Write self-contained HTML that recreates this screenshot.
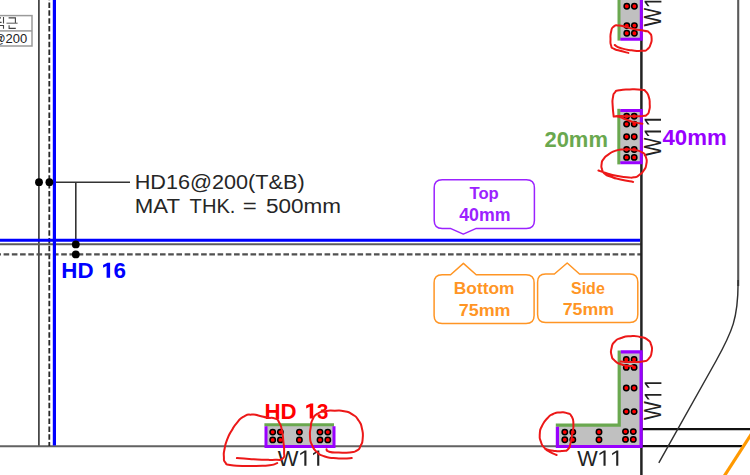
<!DOCTYPE html>
<html><head><meta charset="utf-8"><title>Rebar cover detail</title>
<style>
html,body{margin:0;padding:0;background:#fff;}
body{width:750px;height:475px;overflow:hidden;font-family:"Liberation Sans",sans-serif;}
svg{display:block;}
text{font-family:"Liberation Sans",sans-serif;}
</style></head><body>
<svg width="750" height="475" viewBox="0 0 750 475">
<rect width="750" height="475" fill="#ffffff"/>

<g fill="none" stroke="#333" stroke-width="1.6">
<line x1="38.9" y1="0" x2="38.9" y2="446"/>
<line x1="0" y1="446.2" x2="556" y2="446.2" stroke="#626262" stroke-width="2.1"/>
<line x1="0" y1="244.3" x2="641" y2="244.3" stroke="#5c5c5c" stroke-width="2.0"/>
<line x1="54" y1="182.2" x2="130" y2="182.2" stroke-width="1.6"/>
<line x1="75.8" y1="182" x2="75.8" y2="244" stroke-width="1.6"/>
</g>
<line x1="49.3" y1="-5.35" x2="49.3" y2="446" stroke="#2a2a2a" stroke-width="1.8" stroke-dasharray="5.5 2.35"/>
<line x1="-4.63" y1="254.4" x2="641" y2="254.4" stroke="#505050" stroke-width="2.1" stroke-dasharray="5.6 2.63"/>
<line x1="641.4" y1="0" x2="641.4" y2="475" stroke="#222" stroke-width="2.5"/>
<line x1="642" y1="429.1" x2="750" y2="429.1" stroke="#111" stroke-width="2.3"/>
<line x1="642" y1="446.1" x2="742" y2="446.1" stroke="#111" stroke-width="2.3"/>
<line x1="738.2" y1="-2" x2="738.2" y2="286" stroke="#5a5a5a" stroke-width="2.1"/>
<path d="M738.1 280 L738.1 283 C738 318 732.6 331 716 361 L658.8 462.8" fill="none" stroke="#303030" stroke-width="1.45"/>
<line x1="752" y1="433" x2="723" y2="478" stroke="#ff9900" stroke-width="3.2"/>
<line x1="54.4" y1="0" x2="54.4" y2="445.5" stroke="#0000ff" stroke-width="3.2"/>
<line x1="0" y1="240.2" x2="640" y2="240.2" stroke="#0000ff" stroke-width="3"/>
<circle cx="39" cy="182.2" r="3.9" fill="#000"/>
<circle cx="49.4" cy="182.2" r="3.9" fill="#000"/>
<circle cx="75.8" cy="244.4" r="3.9" fill="#000"/>
<circle cx="75.8" cy="254.4" r="3.9" fill="#000"/>
<g fill="none" stroke="#9a9a9a" stroke-width="1.5"><rect x="-5" y="15.6" width="37" height="30.4"/><line x1="0" y1="30.9" x2="32" y2="30.9"/></g>
<text transform="translate(-7.55 42.7) scale(1.03 1)" font-size="12.6" fill="#222">@200</text>
<g fill="none" stroke="#444" stroke-width="1.1"><path d="M8.6 17.9 H15.4 V23"/><path d="M6.5 23.2 H17.6" stroke="#666"/><path d="M9.1 25.2 V28.4 H15.8"/><path d="M3.5 17 V23.6 M-1 17.9 H1 M-1 22.4 H1.6 M-1 25.5 H3.5 V28.8"/></g>
<text transform="translate(134.67 188.70) scale(1.0800 1)" font-size="20.06" fill="#262626">HD16@200(T&amp;B)</text>
<text transform="translate(134.82 213.00) scale(1.0613 1)" font-size="20.93" fill="#262626">MAT</text>
<text transform="translate(189.60 213.00) scale(0.9622 1)" font-size="20.93" fill="#262626">THK.</text>
<text transform="translate(242.64 213.00) scale(1.1467 1)" font-size="20.93" fill="#262626">=</text>
<text transform="translate(265.90 213.00) scale(1.0764 1)" font-size="20.93" fill="#262626">500mm</text>
<text transform="translate(61.36 277.90) scale(1.0109 1)" font-size="22.09" font-weight="bold" fill="#0000ff">HD</text>
<path d="M110.10 277.8 H106.60 V266.10 L103.10 267.80 V264.90 L107.50 262.8 H110.10 Z" fill="#0000ff"/>
<text transform="translate(113.53 277.90) scale(1.0161 1)" font-size="22.09" font-weight="bold" fill="#0000ff">6</text>
<rect x="619" y="-5" width="22" height="45" fill="#c0c0c0"/>
<line x1="619" y1="-5" x2="619" y2="40.6" stroke="#6aa84f" stroke-width="3"/>
<path d="M620.4 39.2 H641.3 V-5" fill="none" stroke="#9900ff" stroke-width="3"/>
<circle cx="626.8" cy="6.3" r="2.7" fill="#ff0000" stroke="#000" stroke-width="1.5"/><circle cx="626.8" cy="25.6" r="2.7" fill="#ff0000" stroke="#000" stroke-width="1.5"/><circle cx="626.8" cy="33.2" r="2.7" fill="#ff0000" stroke="#000" stroke-width="1.5"/><circle cx="634.4" cy="6.3" r="2.7" fill="#ff0000" stroke="#000" stroke-width="1.5"/><circle cx="634.4" cy="25.6" r="2.7" fill="#ff0000" stroke="#000" stroke-width="1.5"/><circle cx="634.4" cy="33.2" r="2.7" fill="#ff0000" stroke="#000" stroke-width="1.5"/>
<rect x="619" y="110" width="22" height="53" fill="#c0c0c0"/>
<line x1="618.8" y1="108.8" x2="618.8" y2="164.4" stroke="#6aa84f" stroke-width="3"/>
<path d="M620.3 110.4 H641.3 V162.8 H620.3" fill="none" stroke="#9900ff" stroke-width="3"/>
<circle cx="626.6" cy="116.2" r="2.7" fill="#ff0000" stroke="#000" stroke-width="1.5"/><circle cx="626.6" cy="124.1" r="2.7" fill="#ff0000" stroke="#000" stroke-width="1.5"/><circle cx="626.6" cy="136.8" r="2.7" fill="#ff0000" stroke="#000" stroke-width="1.5"/><circle cx="626.6" cy="149.5" r="2.7" fill="#ff0000" stroke="#000" stroke-width="1.5"/><circle cx="626.6" cy="157.4" r="2.7" fill="#ff0000" stroke="#000" stroke-width="1.5"/><circle cx="634.2" cy="116.2" r="2.7" fill="#ff0000" stroke="#000" stroke-width="1.5"/><circle cx="634.2" cy="124.1" r="2.7" fill="#ff0000" stroke="#000" stroke-width="1.5"/><circle cx="634.2" cy="136.8" r="2.7" fill="#ff0000" stroke="#000" stroke-width="1.5"/><circle cx="634.2" cy="149.5" r="2.7" fill="#ff0000" stroke="#000" stroke-width="1.5"/><circle cx="634.2" cy="157.4" r="2.7" fill="#ff0000" stroke="#000" stroke-width="1.5"/>
<rect x="266" y="425" width="68" height="22" fill="#c0c0c0"/>
<line x1="264.4" y1="424.8" x2="334" y2="424.8" stroke="#6aa84f" stroke-width="3"/>
<path d="M266 426.3 V446.5 H334 V426.3" fill="none" stroke="#9900ff" stroke-width="3"/>
<circle cx="272.7" cy="432.1" r="2.7" fill="#ff0000" stroke="#000" stroke-width="1.5"/><circle cx="272.7" cy="439.9" r="2.7" fill="#ff0000" stroke="#000" stroke-width="1.5"/><circle cx="280.4" cy="432.1" r="2.7" fill="#ff0000" stroke="#000" stroke-width="1.5"/><circle cx="280.4" cy="439.9" r="2.7" fill="#ff0000" stroke="#000" stroke-width="1.5"/>
<circle cx="299.4" cy="432.1" r="2.7" fill="#ff0000" stroke="#000" stroke-width="1.5"/><circle cx="299.4" cy="439.9" r="2.7" fill="#ff0000" stroke="#000" stroke-width="1.5"/>
<circle cx="320" cy="432.1" r="2.7" fill="#ff0000" stroke="#000" stroke-width="1.5"/><circle cx="320" cy="439.9" r="2.7" fill="#ff0000" stroke="#000" stroke-width="1.5"/><circle cx="327.8" cy="432.1" r="2.7" fill="#ff0000" stroke="#000" stroke-width="1.5"/><circle cx="327.8" cy="439.9" r="2.7" fill="#ff0000" stroke="#000" stroke-width="1.5"/>
<path d="M619 352 H641 V447 H557 V425 H619 Z" fill="#c0c0c0"/>
<path d="M555.8 425.2 H619.2 V350.6" fill="none" stroke="#6aa84f" stroke-width="3.2"/>
<path d="M620.8 351.9 H641.1 V446.5 H557.4 V426.8" fill="none" stroke="#9900ff" stroke-width="3.2"/>
<circle cx="626.3" cy="359.5" r="2.7" fill="#ff0000" stroke="#000" stroke-width="1.5"/><circle cx="626.3" cy="367.4" r="2.7" fill="#ff0000" stroke="#000" stroke-width="1.5"/><circle cx="626.3" cy="388" r="2.7" fill="#ff0000" stroke="#000" stroke-width="1.5"/><circle cx="626.3" cy="411.6" r="2.7" fill="#ff0000" stroke="#000" stroke-width="1.5"/><circle cx="634.1" cy="359.5" r="2.7" fill="#ff0000" stroke="#000" stroke-width="1.5"/><circle cx="634.1" cy="367.4" r="2.7" fill="#ff0000" stroke="#000" stroke-width="1.5"/><circle cx="634.1" cy="388" r="2.7" fill="#ff0000" stroke="#000" stroke-width="1.5"/><circle cx="634.1" cy="411.6" r="2.7" fill="#ff0000" stroke="#000" stroke-width="1.5"/>
<circle cx="625.5" cy="431.6" r="2.7" fill="#ff0000" stroke="#000" stroke-width="1.5"/><circle cx="625.5" cy="439.4" r="2.7" fill="#ff0000" stroke="#000" stroke-width="1.5"/><circle cx="633.3" cy="431.6" r="2.7" fill="#ff0000" stroke="#000" stroke-width="1.5"/><circle cx="633.3" cy="439.4" r="2.7" fill="#ff0000" stroke="#000" stroke-width="1.5"/>
<circle cx="599" cy="432" r="2.7" fill="#ff0000" stroke="#000" stroke-width="1.5"/><circle cx="599" cy="439.8" r="2.7" fill="#ff0000" stroke="#000" stroke-width="1.5"/>
<circle cx="564.8" cy="432.1" r="2.7" fill="#ff0000" stroke="#000" stroke-width="1.5"/><circle cx="564.8" cy="439.8" r="2.7" fill="#ff0000" stroke="#000" stroke-width="1.5"/><circle cx="572.8" cy="432.1" r="2.7" fill="#ff0000" stroke="#000" stroke-width="1.5"/><circle cx="572.8" cy="439.8" r="2.7" fill="#ff0000" stroke="#000" stroke-width="1.5"/>
<g transform="translate(277.8 465.8) scale(1.012 1)" fill="#222"><text transform="translate(0.00 0) scale(0.9880 1)" font-size="21.95">W</text><path d="M26.2 0 V-13.2 L22.15 -10.6 V-12.5 L26.65 -15.2 H28.3 V0 Z"/><path d="M38.900000000000006 0 V-13.2 L34.85 -10.6 V-12.5 L39.35 -15.2 H41.0 V0 Z"/></g>
<g transform="translate(577.3 465.8)" fill="#222"><text transform="translate(0.00 0) scale(0.9880 1)" font-size="21.95">W</text><path d="M26.2 0 V-13.2 L22.15 -10.6 V-12.5 L26.65 -15.2 H28.3 V0 Z"/><path d="M38.900000000000006 0 V-13.2 L34.85 -10.6 V-12.5 L39.35 -15.2 H41.0 V0 Z"/></g>
<g transform="translate(661 156.3) rotate(-90) scale(0.913 1.08)" fill="#222"><text transform="translate(0.00 0) scale(0.9880 1)" font-size="21.95">W</text><path d="M26.2 0 V-13.2 L22.15 -10.6 V-12.5 L26.65 -15.2 H28.3 V0 Z"/><path d="M38.900000000000006 0 V-13.2 L34.85 -10.6 V-12.5 L39.35 -15.2 H41.0 V0 Z"/></g>
<g transform="translate(661.4 26.5) rotate(-90) scale(0.913 1.11)" fill="#222"><text transform="translate(0.00 0) scale(0.9880 1)" font-size="21.95">W</text><path d="M26.2 0 V-13.2 L22.15 -10.6 V-12.5 L26.65 -15.2 H28.3 V0 Z"/><path d="M38.900000000000006 0 V-13.2 L34.85 -10.6 V-12.5 L39.35 -15.2 H41.0 V0 Z"/></g>
<g transform="translate(661.4 420) rotate(-90) scale(0.923 1.1)" fill="#222"><text transform="translate(0.00 0) scale(0.9880 1)" font-size="21.95">W</text><path d="M26.2 0 V-13.2 L22.15 -10.6 V-12.5 L26.65 -15.2 H28.3 V0 Z"/><path d="M38.900000000000006 0 V-13.2 L34.85 -10.6 V-12.5 L39.35 -15.2 H41.0 V0 Z"/></g>
<text transform="translate(544.44 146.70) scale(1.0085 1)" font-size="21.80" font-weight="bold" fill="#6aa84f">20mm</text>
<text transform="translate(662.48 144.70) scale(1.0193 1)" font-size="21.80" font-weight="bold" fill="#9900ff">40mm</text>
<text transform="translate(264.56 418.50) scale(1.0210 1)" font-size="21.80" font-weight="bold" fill="#ff0000">HD</text>
<path d="M313.20 418.5 H309.70 V406.80 L306.20 408.50 V405.60 L310.60 403.5 H313.20 Z" fill="#ff0000"/>
<text transform="translate(316.89 418.50) scale(0.9357 1)" font-size="21.80" font-weight="bold" fill="#ff0000">3</text>
<path d="M442.2 179.8 H526.4 Q534.4 179.8 534.4 187.8 V220.4 Q534.4 228.4 526.4 228.4 H476.3 L463.3 234.1 L450.3 228.4 H442.2 Q434.2 228.4 434.2 220.4 V187.8 Q434.2 179.8 442.2 179.8 Z" fill="#fff" stroke="#9b22ff" stroke-width="1.5" stroke-linejoin="round"/>
<text transform="translate(469.53 199.40) scale(0.9616 1)" font-size="17.30" font-weight="bold" fill="#9b22ff">Top</text>
<text transform="translate(459.22 221.10) scale(1.0096 1)" font-size="17.59" font-weight="bold" fill="#9b22ff">40mm</text>
<path d="M442.1 274.8 H450.6 L463.4 263.4 L476.2 274.8 H526.1 Q534.1 274.8 534.1 282.8 V315.4 Q534.1 323.4 526.1 323.4 H442.1 Q434.1 323.4 434.1 315.4 V282.8 Q434.1 274.8 442.1 274.8 Z" fill="#fff" stroke="#ff9524" stroke-width="1.5" stroke-linejoin="round"/>
<text transform="translate(453.76 294.40) scale(1.0213 1)" font-size="17.01" font-weight="bold" fill="#ff9524">Bottom</text>
<text transform="translate(458.68 315.70) scale(1.0376 1)" font-size="17.30" font-weight="bold" fill="#ff9524">75mm</text>
<path d="M545.6 274 H554.4 L567.2 263 L579.5 274 H629.8 Q637.8 274 637.8 282 V314.5 Q637.8 322.5 629.8 322.5 H545.6 Q537.6 322.5 537.6 314.5 V282 Q537.6 274 545.6 274 Z" fill="#fff" stroke="#ff9524" stroke-width="1.5" stroke-linejoin="round"/>
<text transform="translate(570.98 294.00) scale(0.9671 1)" font-size="16.57" font-weight="bold" fill="#ff9524">Side</text>
<text transform="translate(562.69 315.00) scale(1.0294 1)" font-size="17.30" font-weight="bold" fill="#ff9524">75mm</text>
<g fill="none" stroke="#ec1818" stroke-width="2.0" stroke-linecap="round" stroke-linejoin="round">
<path d="M614.7 45.0 C616.8 46.1 615.4 46.4 621.1 48.2 C626.7 49.9 624.6 49.4 631.6 50.3 C638.6 51.1 636.8 51.1 642.1 50.8 C647.4 50.4 644.6 51.3 647.4 49.2 C650.2 47.1 649.1 48.2 650.5 44.5 C651.9 40.8 651.9 42.0 651.6 38.2 C651.2 34.3 651.9 35.4 649.5 32.9 C647.0 30.4 649.1 32.0 644.2 30.8 C639.3 29.6 640.7 30.4 634.7 29.2 C628.8 28.0 631.6 28.3 626.3 27.1 C621.1 25.9 623.2 25.7 618.9 25.5 C614.7 25.4 616.3 24.5 613.7 26.6 C611.1 28.7 612.1 27.6 611.1 31.8 C610.0 36.1 610.5 34.6 610.5 39.2 C610.5 43.8 610.0 42.4 611.1 45.5 C612.1 48.7 610.7 46.9 613.7 48.7 C616.7 50.4 615.1 49.4 620.0 50.8 C624.9 52.2 625.6 52.2 628.4 52.9"/>
<path d="M613.7 116.6 C613.4 113.1 613.0 112.4 612.7 106.1 C612.4 99.7 612.1 102.2 612.9 97.6 C613.7 93.1 612.9 94.8 615.0 92.4 C617.1 89.9 614.3 91.2 619.2 90.3 C624.1 89.3 622.4 89.6 629.7 89.4 C637.1 89.2 636.1 89.1 641.3 89.7 C646.6 90.4 643.1 89.0 645.5 91.3 C648.0 93.6 647.3 92.4 648.7 96.6 C650.1 100.8 649.6 99.4 649.7 103.9 C649.9 108.5 650.1 106.8 649.2 110.3 C648.3 113.8 649.4 112.5 647.1 114.5 C644.8 116.4 646.4 115.5 642.4 116.1 C638.3 116.6 640.3 116.2 635.0 116.3 C629.7 116.3 631.8 116.3 626.6 116.2 C621.3 116.1 623.2 115.8 619.2 115.9 C615.2 116.1 616.1 116.4 614.5 116.6"/>
<path d="M616.1 116.3 C617.1 116.4 615.7 115.6 619.2 116.8 C622.7 117.9 621.3 117.9 626.6 119.7 C631.8 121.6 629.7 121.0 635.0 122.4 C640.3 123.7 639.9 123.3 642.4 123.7"/>
<path d="M598.4 170.5 C600.9 171.3 599.8 171.2 605.8 172.9 C611.8 174.7 609.3 174.4 616.3 175.8 C623.3 177.2 620.9 176.7 626.8 177.2 C632.8 177.6 630.0 178.1 634.2 177.3 C638.4 176.5 636.3 177.0 639.5 174.7 C642.6 172.5 641.4 174.0 643.7 170.5 C646.0 167.0 645.6 168.8 646.3 164.2 C647.0 159.6 647.4 160.9 645.8 156.8 C644.2 152.8 645.4 154.4 641.6 152.1 C637.7 149.8 639.8 150.9 634.2 150.0 C628.6 149.1 630.7 149.3 624.7 149.5 C618.8 149.6 621.6 148.9 616.3 150.5 C611.1 152.1 613.2 151.4 608.9 154.2 C604.7 157.0 606.1 155.6 603.7 158.9 C601.2 162.3 602.1 160.7 601.6 164.2 C601.1 167.7 601.1 166.3 602.1 169.5 C603.2 172.6 601.8 171.2 604.7 173.7 C607.7 176.1 605.8 174.9 611.1 176.8 C616.3 178.8 613.2 177.8 620.5 179.5 C627.9 181.2 628.9 181.1 633.2 181.9"/>
<path d="M620.5 361.5 C624.2 361.6 624.4 361.9 631.6 361.9 C638.8 361.9 636.5 362.4 642.1 361.5 C647.7 360.5 645.3 362.1 648.4 359.1 C651.6 356.0 650.7 356.9 651.6 352.2 C652.5 347.5 652.5 349.1 651.1 344.8 C649.6 340.6 651.1 342.2 647.4 339.6 C643.7 336.9 645.6 338.1 640.0 336.9 C634.4 335.8 636.8 335.9 630.5 336.2 C624.2 336.6 626.3 336.2 621.1 338.0 C615.8 339.8 617.9 338.4 614.7 341.7 C611.6 345.0 612.6 343.4 611.6 348.0 C610.5 352.6 610.5 351.2 611.6 355.4 C612.6 359.6 611.6 357.6 614.7 360.6 C617.9 363.6 616.8 362.6 621.1 364.3 C625.3 366.0 623.5 365.1 627.4 365.7 C631.2 366.3 630.9 366.0 632.6 366.1"/>
<path d="M545.0 448.7 C547.7 449.4 547.4 449.9 553.1 450.7 C558.9 451.5 557.4 451.6 562.4 451.0 C567.4 450.5 565.5 451.6 568.2 449.0 C570.9 446.3 569.1 448.2 570.5 443.2 C571.8 438.2 571.3 440.1 572.2 433.9 C573.2 427.8 573.6 430.5 573.4 424.7 C573.2 418.9 573.8 420.4 571.7 416.6 C569.5 412.7 570.9 414.5 567.0 413.1 C563.2 411.7 564.7 412.1 560.1 412.4 C555.5 412.7 557.4 412.1 553.1 414.0 C548.9 416.0 551.0 414.4 547.4 418.3 C543.7 422.2 544.7 420.6 542.1 425.8 C539.6 431.0 540.2 428.5 539.8 433.9 C539.4 439.3 539.4 437.4 541.0 442.0 C542.5 446.7 541.6 444.5 544.5 447.8 C547.4 451.1 545.6 449.5 549.7 451.9 C553.7 454.2 554.3 453.9 556.6 455.0"/>
<path d="M236.9 458.1 C241.0 458.4 240.5 458.5 249.2 459.0 C257.8 459.6 254.2 459.5 262.9 459.7 C271.5 459.9 268.6 460.1 275.2 459.7 C281.8 459.3 279.7 461.3 282.7 458.6 C285.7 455.9 283.8 457.1 284.1 451.5 C284.3 445.9 284.1 448.8 283.4 441.9 C282.7 435.1 283.4 437.4 282.0 431.0 C280.6 424.6 281.6 426.9 279.3 422.8 C277.0 418.7 279.3 420.4 275.2 418.7 C271.1 416.9 272.0 418.5 267.0 417.6 C262.0 416.7 265.1 416.9 260.1 415.9 C255.1 414.9 257.4 414.3 251.9 414.6 C246.5 414.8 248.7 413.9 243.7 416.6 C238.7 419.4 241.0 418.0 236.9 422.8 C232.8 427.6 234.6 425.5 231.4 431.0 C228.2 436.5 229.6 433.3 227.3 439.2 C225.0 445.1 225.7 442.8 224.6 448.8 C223.4 454.7 223.7 452.4 223.9 457.0 C224.1 461.5 223.2 459.8 225.3 462.4 C227.3 465.1 224.3 463.8 230.0 464.9 C235.7 466.0 233.7 465.5 242.4 465.9 C251.0 466.2 246.9 466.1 256.0 465.9 C265.1 465.6 262.6 466.1 269.7 465.2 C276.8 464.3 274.7 463.8 277.2 463.1"/>
<path d="M326.5 449.2 C327.4 450.1 325.1 450.6 329.2 451.7 C333.3 452.8 331.9 452.4 338.8 452.6 C345.6 452.9 343.8 453.1 349.7 452.4 C355.6 451.7 352.9 452.8 356.5 450.6 C360.2 448.4 358.6 449.9 360.6 445.8 C362.7 441.7 362.2 444.0 362.7 438.3 C363.1 432.6 363.4 434.6 362.0 428.7 C360.6 422.8 361.8 425.3 358.6 420.5 C355.4 415.7 357.2 417.5 352.4 414.4 C347.6 411.3 350.2 412.4 344.2 411.2 C338.3 410.0 341.0 410.7 334.7 410.7 C328.3 410.7 330.8 410.2 325.1 411.2 C319.4 412.2 321.7 411.0 317.6 413.7 C313.5 416.3 315.1 414.6 312.8 419.1 C310.5 423.7 311.6 421.4 310.7 427.4 C309.8 433.3 309.6 431.0 310.0 436.9 C310.5 442.8 309.8 440.1 312.1 445.1 C314.4 450.1 313.0 448.3 316.9 452.0 C320.8 455.6 318.2 454.0 323.7 456.1 C329.2 458.1 326.9 457.3 333.3 458.1 C339.7 458.9 336.7 458.5 342.9 458.5 C349.0 458.5 348.8 458.3 351.8 458.1"/>
</g>
</svg></body></html>
